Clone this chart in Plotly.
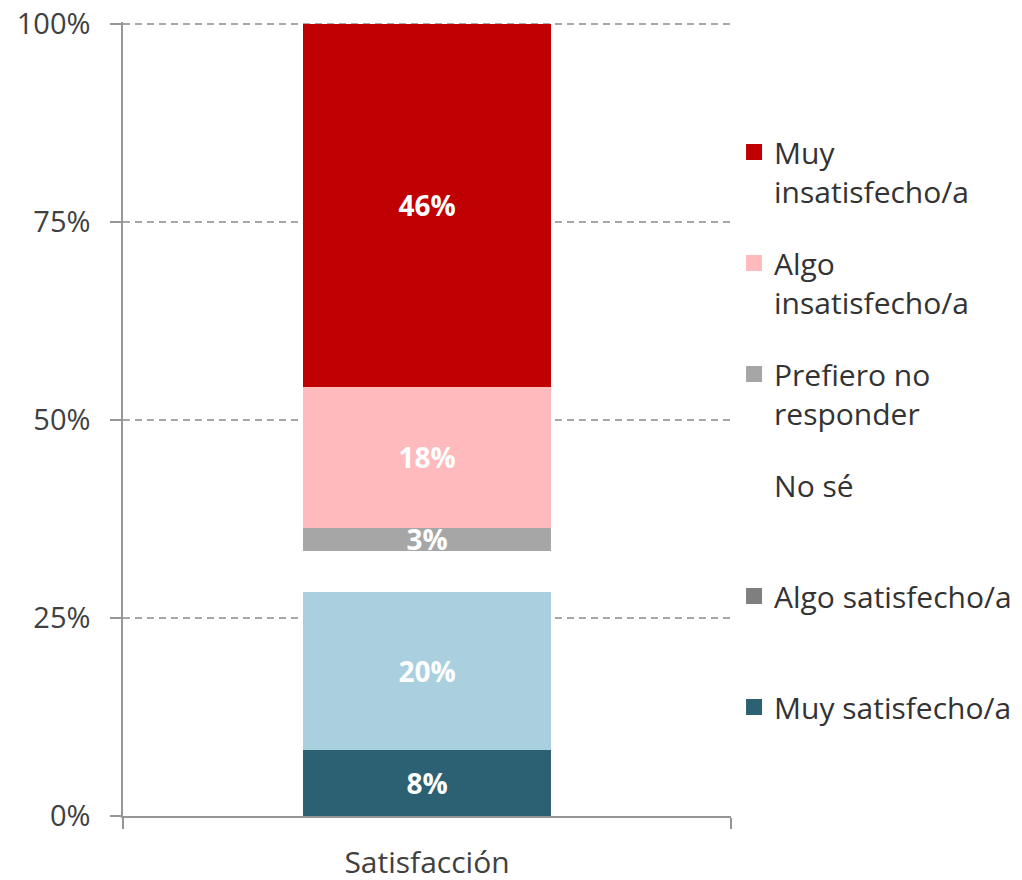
import plotly.graph_objects as go

# data (percent of respondents)
categoria = ['Satisfacción']
muy_satisfecho = [8.3]
algo_satisfecho = [20.0]
no_se = [5.2]
prefiero_no = [2.9]
algo_insatisfecho = [17.8]
muy_insatisfecho = [45.8]

y_ticks = [0, 25, 50, 75, 100]
y_tick_labels = ['0%', '25%', '50%', '75%', '100%']

# stack order, bottom to top  (No sé label is white on white in the original -> left blank)
series = [
    ('Muy satisfecho/a', muy_satisfecho, '#2C6173', '%{y:.0f}%'),
    ('Algo satisfecho/a', algo_satisfecho, '#AAD0DF', '%{y:.0f}%'),
    ('No sé', no_se, '#FFFFFF', ''),
    ('Prefiero no responder', prefiero_no, '#A6A6A6', '%{y:.0f}%'),
    ('Algo insatisfecho/a', algo_insatisfecho, '#FFBABD', '%{y:.0f}%'),
    ('Muy insatisfecho/a', muy_insatisfecho, '#C00000', '%{y:.0f}%'),
]

# legend, top to bottom (colours as they appear in the legend)
legend_items = [
    ('Muy<br>insatisfecho/a', '#C00000'),
    ('Algo<br>insatisfecho/a', '#FFBABD'),
    ('Prefiero no<br>responder', '#A6A6A6'),
    ('No sé<br> ', '#FFFFFF'),
    ('Algo satisfecho/a<br> ', '#7F7F7F'),
    ('Muy satisfecho/a<br> ', '#2C6173'),
]

FONT = 'Open Sans, Noto Sans, sans-serif'
GRAY = '#969696'

fig = go.Figure()

for name, vals, color, tmpl in series:
    fig.add_trace(go.Bar(
        x=categoria, y=vals, name=name,
        marker=dict(color=color, line=dict(width=0)),
        texttemplate=tmpl, textposition='inside',
        insidetextanchor='middle', textangle=0, constraintext='none',
        textfont=dict(family=FONT, size=28, color='white', weight='bold'),
        showlegend=False, hoverinfo='skip',
    ))

for i, (label, color) in enumerate(legend_items):
    fig.add_trace(go.Scatter(
        x=[None], y=[None], mode='markers', name=label,
        legendgroup='g%d' % i,
        marker=dict(symbol='square', size=16, color=color),
    ))

# page body has an 8px margin, so the figure sits 8px in from the window corner
fig.update_layout(
    width=1014, height=880,
    margin=dict(l=115, r=291, t=14, b=72, autoexpand=False),
    paper_bgcolor='white', plot_bgcolor='white',
    barmode='stack', bargap=0.592,
    font=dict(family=FONT, size=29, color='#404040'),
    showlegend=True,
    legend=dict(
        x=1.005, y=0.869, xanchor='left', yanchor='top',
        traceorder='grouped', tracegroupgap=30, valign='top',
        font=dict(family=FONT, size=30, color='#333333'),
        bgcolor='rgba(0,0,0,0)',
    ),
)

fig.update_xaxes(
    type='category', range=[-0.5, 0.5], automargin=False,
    showline=True, linecolor=GRAY, linewidth=1.5,
    ticks='outside', tickson='boundaries', ticklen=11, tickcolor=GRAY, tickwidth=1.5,
    ticklabelstandoff=19, showgrid=False, zeroline=False,
    tickfont=dict(family=FONT, size=30, color='#404040'),
)

fig.update_yaxes(
    range=[0, 100.25], tickvals=y_ticks, ticktext=y_tick_labels, automargin=False,
    showline=True, linecolor=GRAY, linewidth=1.5,
    ticks='outside', ticklen=11, tickcolor=GRAY, tickwidth=1.5,
    ticklabelstandoff=14, ticklabeloverflow='allow',
    showgrid=True, gridcolor='#A6A6A6', gridwidth=1.5, griddash='7px,5px',
    zeroline=False,
    tickfont=dict(family=FONT, size=29, color='#404040'),
)

fig.write_html('out.html')
